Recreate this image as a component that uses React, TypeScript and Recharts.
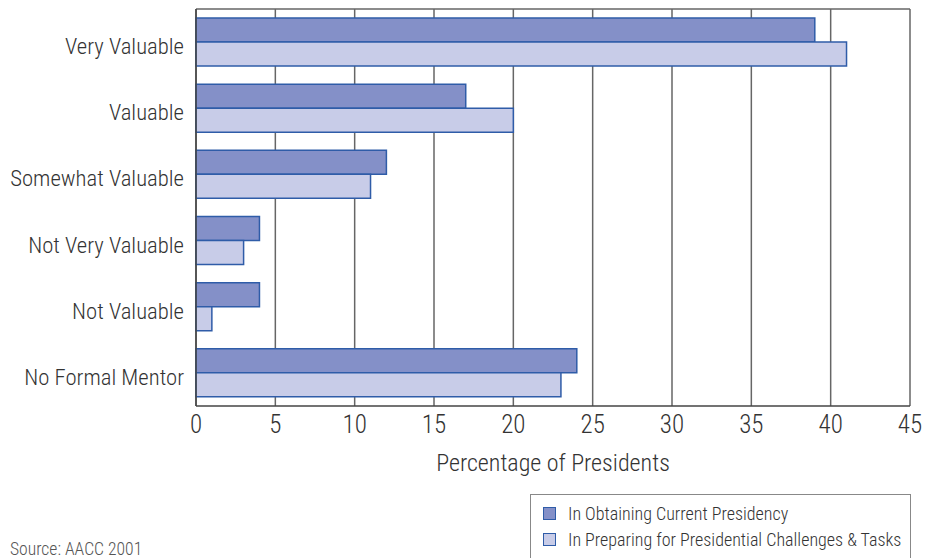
import React from 'react';
import { BarChart, Bar, XAxis, YAxis, CartesianGrid } from 'recharts';

const categories = [
  'Very Valuable',
  'Valuable',
  'Somewhat Valuable',
  'Not Very Valuable',
  'Not Valuable',
  'No Formal Mentor',
];
const obtaining = [39, 17, 12, 4, 4, 24];
const preparing = [41, 20, 11, 3, 1, 23];
const xTicks = [0, 5, 10, 15, 20, 25, 30, 35, 40, 45];

const seriesNames = [
  'In Obtaining Current Presidency',
  'In Preparing for Presidential Challenges & Tasks',
];

const DARK = '#8490c8';
const LIGHT = '#c8cce8';
const EDGE = '#2f5ca8';
const FONT = '"Liberation Sans Narrow", "Arial Narrow", "Roboto Condensed", sans-serif';

const data = categories.map((name, i) => ({
  name,
  obtaining: obtaining[i],
  preparing: preparing[i],
}));

// category labels sit a touch below the band centre in the original
const CategoryTick = (props: any) => {
  const { x, y, payload } = props;
  return (
    <text x={x} y={y + 4} dy="0.355em" textAnchor="end" fill="#333" fontSize={22.7} fontFamily={FONT} fontWeight={300}>
      {payload.value}
    </text>
  );
};

const App: React.FC = () => {
  return (
    <div style={{ position: 'absolute', left: 0, top: 0, width: 927, height: 558, background: '#fff', fontFamily: FONT, fontWeight: 300, overflow: 'hidden' }}>
      <BarChart
        width={927}
        height={480}
        data={data}
        layout="vertical"
        margin={{ top: 9, right: 17, left: 0, bottom: 0 }}
        barCategoryGap={9}
        barGap={0}
      >
        <CartesianGrid
          horizontal={true}
          horizontalPoints={[9]}
          vertical={true}
          stroke="#666"
          strokeWidth={1.5}
        />
        <XAxis
          type="number"
          domain={[0, 45]}
          ticks={xTicks}
          tickLine={false}
          axisLine={{ stroke: '#444', strokeWidth: 1.5 }}
          tick={{ fill: '#333', fontSize: 25, fontFamily: FONT, fontWeight: 300 }}
          tickMargin={3}
          height={74}
          label={{ value: 'Percentage of Presidents', position: 'insideBottom', offset: 9, fill: '#333', fontSize: 24, fontFamily: FONT, fontWeight: 300 }}
        />
        <YAxis
          type="category"
          dataKey="name"
          width={196}
          tickLine={false}
          axisLine={{ stroke: '#444', strokeWidth: 1.5 }}
          tick={<CategoryTick />}
          tickMargin={6}
        />
        <Bar dataKey="obtaining" name={seriesNames[0]} fill={DARK} stroke={EDGE} strokeWidth={1.5} isAnimationActive={false} />
        <Bar dataKey="preparing" name={seriesNames[1]} fill={LIGHT} stroke={EDGE} strokeWidth={1.5} isAnimationActive={false} />
      </BarChart>
      <div style={{ position: 'absolute', left: 10, top: 539, fontSize: 17.6, color: '#555' }}>Source: AACC 2001</div>
      <div
        style={{
          position: 'absolute',
          left: 530,
          top: 494,
          width: 381,
          height: 80,
          border: '1.5px solid #888',
          boxSizing: 'border-box',
          padding: '5px 0 0 12px',
        }}
      >
        {seriesNames.map((s, i) => (
          <div key={s} style={{ display: 'flex', alignItems: 'center', height: 26, fontSize: 18, color: '#333' }}>
            <div style={{ width: 11, height: 11, background: i === 0 ? DARK : LIGHT, border: `1.5px solid ${EDGE}`, marginRight: 12 }} />
            <span>{s}</span>
          </div>
        ))}
      </div>
    </div>
  );
};

export default App;
